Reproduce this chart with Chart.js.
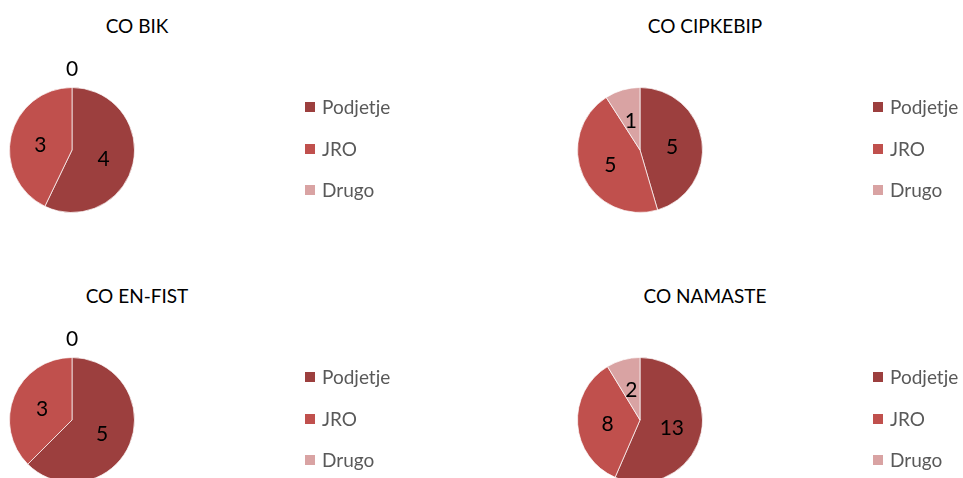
<!DOCTYPE html>
<html>
<head>
<meta charset="utf-8">
<script src="https://cdn.jsdelivr.net/npm/chart.js@4.4.1/dist/chart.umd.min.js"></script>
<style>
  html, body { margin: 0; padding: 0; background: #fff; }
  body { width: 963px; height: 478px; overflow: hidden; position: relative; font-family: Lato, "Open Sans", sans-serif; }
  .panel { position: absolute; width: 481px; height: 239px; }
  .panel canvas { position: absolute; left: 0; top: 0; }
  .title { position: absolute; top: 14px; left: 37px; width: 200px; text-align: center; font-size: 19px; color: #000; font-weight: 400; }
  .legend { position: absolute; left: 305px; top: 95px; }
  .legend div { height: 41.5px; font-size: 19px; color: #595959; display: flex; align-items: flex-start; }
  .legend span.sw { display: inline-block; width: 10px; height: 10px; margin: 7px 7px 0 0; }
</style>
</head>
<body>
<script>
// data
const categories = ['Podjetje', 'JRO', 'Drugo'];
const titles = ['CO BIK', 'CO CIPKEBIP', 'CO EN-FIST', 'CO NAMASTE'];
const bikValues = [4, 3, 0];
const cipkebipValues = [5, 5, 1];
const enfistValues = [5, 3, 0];
const namasteValues = [13, 8, 2];
const sliceColors = ['#9c3f3e', '#c0504d', '#d9a3a3'];

const allValues = [bikValues, cipkebipValues, enfistValues, namasteValues];
const offsets = [[0, 0], [568, 0], [0, 270], [568, 270]];

// value labels: inside for normal slices, above the pie for zero slices
const labelPlugin = {
  id: 'sliceLabels',
  afterDatasetsDraw(chart) {
    const ctx = chart.ctx;
    const meta = chart.getDatasetMeta(0);
    const data = chart.data.datasets[0].data;
    ctx.save();
    ctx.font = '21px Lato, "Open Sans", sans-serif';
    ctx.fillStyle = '#000';
    ctx.textAlign = 'center';
    ctx.textBaseline = 'middle';
    meta.data.forEach((arc, i) => {
      const p = arc.getProps(['x', 'y', 'startAngle', 'endAngle', 'outerRadius'], true);
      const mid = (p.startAngle + p.endAngle) / 2;
      let d = p.outerRadius * 0.52;
      if (data[i] === 0) d = p.outerRadius + 20;
      ctx.fillText(String(data[i]), p.x + Math.cos(mid) * d, p.y + Math.sin(mid) * d + 2);
    });
    ctx.restore();
  }
};

allValues.forEach((vals, k) => {
  const panel = document.createElement('div');
  panel.className = 'panel';
  panel.style.left = offsets[k][0] + 'px';
  panel.style.top = offsets[k][1] + 'px';

  const title = document.createElement('div');
  title.className = 'title';
  title.textContent = titles[k];
  panel.appendChild(title);

  const canvas = document.createElement('canvas');
  canvas.width = 481;
  canvas.height = 239;
  panel.appendChild(canvas);

  const legend = document.createElement('div');
  legend.className = 'legend';
  categories.forEach((c, i) => {
    const row = document.createElement('div');
    row.innerHTML = '<span class="sw" style="background:' + sliceColors[i] + '"></span>' + c;
    legend.appendChild(row);
  });
  panel.appendChild(legend);
  document.body.appendChild(panel);

  new Chart(canvas.getContext('2d'), {
    type: 'pie',
    data: {
      labels: categories,
      datasets: [{
        data: vals,
        backgroundColor: sliceColors,
        borderColor: 'rgba(255,255,255,0.7)',
        borderWidth: 1
      }]
    },
    options: {
      responsive: false,
      animation: false,
      layout: { padding: { left: 9, right: 346, top: 87, bottom: 26 } },
      plugins: { legend: { display: false }, tooltip: { enabled: false }, title: { display: false } }
    },
    plugins: [labelPlugin]
  });
});
</script>
</body>
</html>
